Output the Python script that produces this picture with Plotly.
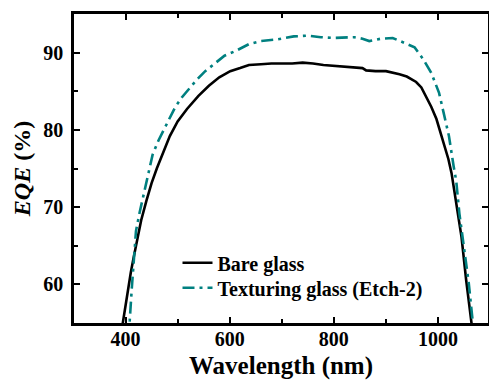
import plotly.graph_objects as go

# Bare glass
bare_wl = [390, 395, 400, 405, 410, 415, 420, 424, 430, 440, 450, 460, 469, 485, 500, 518,
           540, 560, 580, 601, 620, 637, 660, 680, 700, 720, 740, 760, 780, 800, 820, 840,
           855, 862, 880, 900, 915, 926, 940, 958, 968, 977, 987, 997, 1005, 1013, 1020,
           1026, 1035, 1045, 1054, 1064, 1068]
bare_eqe = [53.0, 55.2, 57.5, 59.6, 61.5, 63.3, 65.0, 66.6, 68.3, 70.8, 73.1, 75.0, 76.6, 79.2,
            81.1, 82.7, 84.4, 85.7, 86.8, 87.6, 88.0, 88.4, 88.5, 88.6, 88.6, 88.6, 88.7, 88.6,
            88.4, 88.3, 88.2, 88.1, 88.0, 87.7, 87.6, 87.6, 87.4, 87.2, 86.9, 86.2, 85.5, 84.4,
            83.0, 81.4, 79.7, 77.9, 76.2, 74.4, 70.5, 66.2, 60.6, 55.6, 53.0]

# Texturing glass (Etch-2)
tex_wl = [404, 408, 412, 416, 420, 427, 434, 443, 452, 463, 473, 483, 495, 508, 521, 537,
          553, 576, 590, 611, 637, 660, 690, 723, 750, 775, 800, 839, 855, 868, 890, 913,
          936, 955, 971, 987, 1002, 1012, 1021, 1030, 1035, 1041, 1051, 1059, 1066, 1070]
tex_eqe = [53.0, 55.3, 59.5, 64.0, 66.9, 69.3, 71.4, 74.3, 76.8, 78.6, 79.9, 81.3, 82.9, 84.2,
           85.3, 86.5, 87.6, 88.9, 89.6, 90.2, 91.1, 91.5, 91.7, 92.1, 92.2, 92.0, 91.9, 92.0,
           91.8, 91.5, 91.8, 91.9, 91.2, 90.7, 89.2, 87.4, 84.8, 81.8, 79.2, 75.3, 73.4, 69.2,
           64.0, 60.2, 55.6, 53.0]

x_ticks = [400, 600, 800, 1000]
y_ticks = [60, 70, 80, 90]

FONT = "Liberation Serif"

fig = go.Figure()
fig.add_trace(go.Scatter(x=bare_wl, y=bare_eqe, mode="lines", name="Bare glass",
                         line=dict(color="black", width=2.6), legend="legend"))
fig.add_trace(go.Scatter(x=tex_wl, y=tex_eqe, mode="lines", name="Texturing glass (Etch-2)",
                         line=dict(color="#008080", width=2.6, dash="12px,5px,3px,5px"),
                         legend="legend2"))

axis_common = dict(
    showline=True, linewidth=2.5, linecolor="black", mirror="allticks",
    ticks="inside", ticklen=6, tickwidth=2, tickcolor="black",
    showgrid=False, zeroline=False,
    tickfont=dict(family=FONT, size=20, color="black", weight="bold"),
)

fig.update_xaxes(
    range=[301, 1096], tickvals=x_ticks, ticktext=[str(v) for v in x_ticks],
    minor=dict(dtick=100, tick0=300, ticks="inside", ticklen=4, tickwidth=2, tickcolor="black"),
    title=dict(text="Wavelength (nm)", font=dict(family=FONT, size=25, color="black", weight="bold"),
               standoff=24),
    ticklabelstandoff=-4,
    **axis_common,
)
fig.update_yaxes(
    range=[55, 95], tickvals=y_ticks, ticktext=[str(v) for v in y_ticks],
    minor=dict(dtick=5, tick0=55, ticks="inside", ticklen=4, tickwidth=2, tickcolor="black"),
    title=dict(text="<i>EQE</i> (%)", font=dict(family=FONT, size=24, color="black", weight="bold"),
               standoff=6),
    ticklabelstandoff=4,
    **axis_common,
)

legend_style = dict(xanchor="left", yanchor="middle", bgcolor="rgba(0,0,0,0)", borderwidth=0,
                    font=dict(family=FONT, size=20, color="black", weight="bold"))

fig.update_layout(
    width=489, height=380,
    margin=dict(l=74, r=1, t=14, b=57, autoexpand=False),
    paper_bgcolor="white", plot_bgcolor="white",
    showlegend=True,
    legend=dict(x=0.25, y=0.195, **legend_style),
    legend2=dict(x=0.25, y=0.114, **legend_style),
)

fig.write_html("out.html")
